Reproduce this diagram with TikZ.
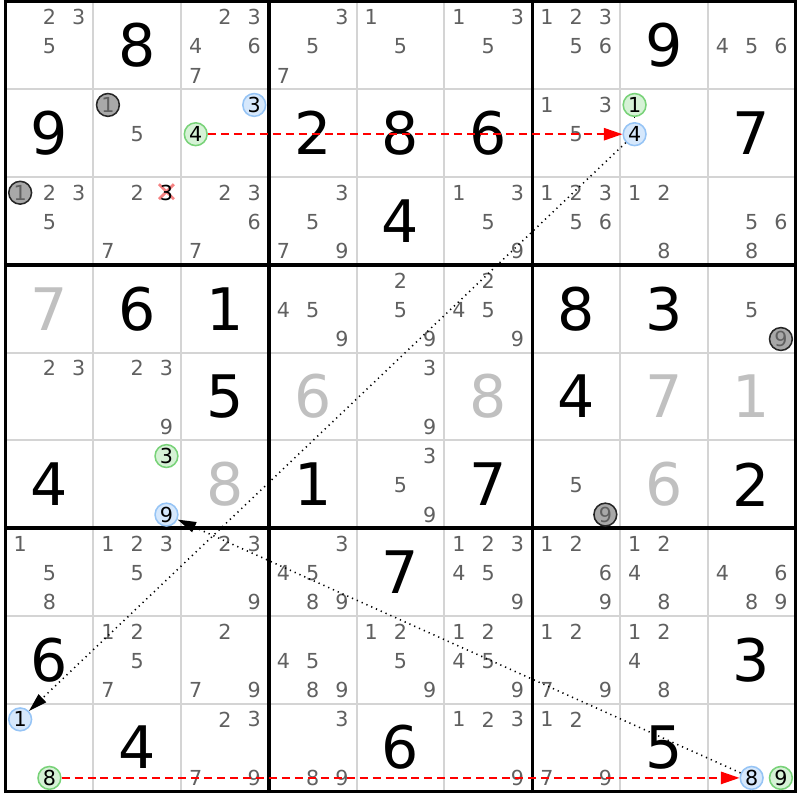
\documentclass[tikz,border=0pt]{standalone}
\usepackage{fontspec}
\setmainfont{DejaVu Sans}
\usetikzlibrary{arrows.meta}
\definecolor{candgray}{RGB}{96,96,96}
\definecolor{solvedgray}{RGB}{192,192,192}
\definecolor{gridgray}{RGB}{212,212,212}
\definecolor{ongreen}{RGB}{120,210,120}
\definecolor{ongreenfill}{RGB}{214,242,214}
\definecolor{offblue}{RGB}{150,196,245}
\definecolor{offbluefill}{RGB}{214,232,252}
\definecolor{deadgray}{RGB}{168,168,168}
\definecolor{crossred}{RGB}{245,130,130}

\begin{document}
\begin{tikzpicture}[
    given/.style={font=\fontsize{19}{19}\selectfont, inner sep=0pt},
    solved/.style={given, text=solvedgray},
    cand/.style={font=\fontsize{6.7}{7}\selectfont, inner sep=0pt, text=candgray},
    marked/.style={cand, circle, draw, line width=0.5pt, minimum size=0.26cm, text=black},
    greencand/.style={marked, draw=ongreen, fill=ongreenfill},
    bluecand/.style={marked, draw=offblue, fill=offbluefill},
    graycand/.style={marked, draw=black!85, fill=deadgray, text=candgray},
    strong/.style={red, line width=0.5pt, dash pattern=on 2.6pt off 1.6pt, -{Triangle[length=6pt,width=4pt]}},
    weak/.style={black, line width=0.5pt, dash pattern=on 0.4pt off 1.3pt, -{Triangle[length=6pt,width=3.5pt]}},
    ]
    \useasboundingbox (-0.063,-0.097) rectangle (9.051,9.017);
    \foreach \i in {1,2,4,5,7,8}{
        \draw[gridgray, line width=0.6pt] (\i,0) -- (\i,9);
        \draw[gridgray, line width=0.6pt] (0,\i) -- (9,\i);
    }
    \foreach \i in {0,3,6,9}{
        \draw[black, line width=1.1pt] (\i,-0.02) -- (\i,9.02);
        \draw[black, line width=1.1pt] (-0.02,\i) -- (9.02,\i);
    }
    \foreach \r/\c/\d in {1/2/8, 1/8/9, 2/1/9, 2/4/2, 2/5/8, 2/6/6, 2/9/7, 3/5/4,
        4/2/6, 4/3/1, 4/7/8, 4/8/3, 5/3/5, 5/7/4, 6/1/4, 6/4/1, 6/6/7, 6/9/2,
        7/5/7, 8/1/6, 8/9/3, 9/2/4, 9/5/6, 9/8/5}
        \node[given] (v\r\c) at (\c-0.5,9.5-\r) {\d};
    \foreach \r/\c/\d in {4/1/7, 5/4/6, 5/6/8, 5/8/7, 5/9/1, 6/3/8, 6/8/6}
        \node[solved] (v\r\c) at (\c-0.5,9.5-\r) {\d};
    \foreach \r/\c/\cands in {1/1/{2,3,5}, 1/3/{2,3,4,6,7}, 1/4/{3,5,7}, 1/5/{1,5},
        1/6/{1,3,5}, 1/7/{1,2,3,5,6}, 1/9/{4,5,6}, 2/2/{5}, 2/7/{1,3,5},
        3/1/{2,3,5}, 3/2/{2,7}, 3/3/{2,3,6,7}, 3/4/{3,5,7,9}, 3/6/{1,3,5,9},
        3/7/{1,2,3,5,6}, 3/8/{1,2,8}, 3/9/{5,6,8}, 4/4/{4,5,9}, 4/5/{2,5,9},
        4/6/{2,4,5,9}, 4/9/{5}, 5/1/{2,3}, 5/2/{2,3,9}, 5/5/{3,9}, 6/5/{3,5,9},
        6/7/{5}, 7/1/{1,5,8}, 7/2/{1,2,3,5}, 7/3/{2,3,9}, 7/4/{3,4,5,8,9},
        7/6/{1,2,3,4,5,9}, 7/7/{1,2,6,9}, 7/8/{1,2,4,8}, 7/9/{4,6,8,9},
        8/2/{1,2,5,7}, 8/3/{2,7,9}, 8/4/{4,5,8,9}, 8/5/{1,2,5,9}, 8/6/{1,2,4,5,9},
        8/7/{1,2,7,9}, 8/8/{1,2,4,8}, 9/3/{2,3,7,9}, 9/4/{3,8,9}, 9/6/{1,2,3,9},
        9/7/{1,2,7,9}}{
        \foreach \n in \cands{
            \pgfmathtruncatemacro\kx{mod(\n-1,3)}
            \pgfmathtruncatemacro\ky{div(\n-1,3)}
            \node[cand] (c\r\c\n) at ({\c-1+(2*\kx+1)/6},{10-\r-(2*\ky+1)/6-0.012}) {\n};
        }
    }
    \coordinate (x323) at ({1+5/6},{7-1/6});
    \draw[crossred, line width=0.9pt] ([shift={(-0.085,-0.085)}]x323) -- ([shift={(0.085,0.085)}]x323)
        ([shift={(-0.085,0.085)}]x323) -- ([shift={(0.085,-0.085)}]x323);
    \node[cand, text=black] (c323) at ([yshift=-0.012cm]x323) {3};
    \foreach \r/\c/\n/\s in {2/2/1/graycand, 3/1/1/graycand, 4/9/9/graycand, 6/7/9/graycand,
        2/3/4/greencand, 2/3/3/bluecand, 2/8/1/greencand, 2/8/4/bluecand,
        6/2/3/greencand, 6/2/9/bluecand, 9/1/8/greencand, 9/1/1/bluecand,
        9/9/8/bluecand, 9/9/9/greencand}{
        \pgfmathtruncatemacro\kx{mod(\n-1,3)}
        \pgfmathtruncatemacro\ky{div(\n-1,3)}
        \node[\s] (c\r\c\n) at ({\c-1+(2*\kx+1)/6},{10-\r-(2*\ky+1)/6-0.012}) {\n};
    }
    \draw[strong] (c234) -- (c284);
    \draw[weak, -] (c281) -- (c284);
    \draw[weak] (c284) -- (c911);
    \draw[strong] (c918) -- (c998);
    \draw[weak] (c998) -- (c629);
\end{tikzpicture}
\end{document}
